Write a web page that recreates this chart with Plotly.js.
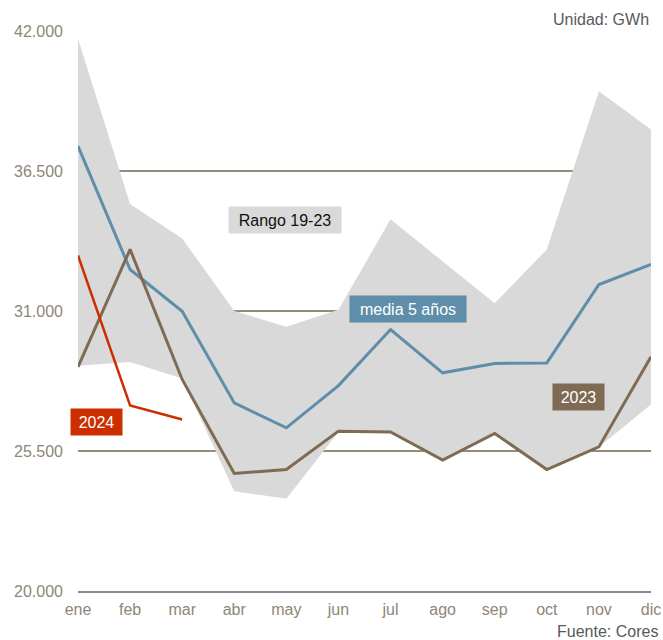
<!DOCTYPE html>
<html>
<head>
<meta charset="utf-8">
<script src="https://cdn.plot.ly/plotly-3.0.1.min.js"></script>
<style>html,body{margin:0;padding:0;background:#fff;}#chart{width:663px;height:640px;}</style>
</head>
<body>
<div id="chart"></div>
<script>
const months = ["ene","feb","mar","abr","may","jun","jul","ago","sep","oct","nov","dic"];
const rangeMin = [28850, 29000, 28350, 23920, 23620, 26250, 26250, 25140, 26190, 24770, 25660, 27330];
const rangeMax = [41700, 35200, 33850, 31000, 30380, 31050, 34600, 32950, 31300, 33420, 39630, 38130];
const media5 = [37480, 32630, 30990, 27390, 26410, 28070, 30270, 28570, 28940, 28960, 32040, 32830];
const y2023 = [28800, 33420, 28310, 24620, 24770, 26280, 26250, 25140, 26190, 24770, 25660, 29200];
const y2024 = [33180, 27290, 26740];
const yTicks = [20000, 25500, 31000, 36500, 42000];

const font = "Liberation Sans, Arial, Helvetica, sans-serif";

const traces = [
  {x: months, y: rangeMin, type: "scatter", mode: "lines", line: {width: 0, color: "#d9d9d9"}, hoverinfo: "skip", showlegend: false},
  {x: months, y: rangeMax, type: "scatter", mode: "lines", fill: "tonexty", fillcolor: "#d9d9d9", line: {width: 0, color: "#d9d9d9"}, hoverinfo: "skip", showlegend: false},
  {x: months, y: media5, type: "scatter", mode: "lines", line: {width: 3, color: "#5e8ea9"}, showlegend: false},
  {x: months, y: y2023, type: "scatter", mode: "lines", line: {width: 3, color: "#7f6a53"}, showlegend: false},
  {x: months.slice(0, y2024.length), y: y2024, type: "scatter", mode: "lines", line: {width: 2.5, color: "#cc2e00"}, showlegend: false}
];

function box(x, y, text, bg, fg, w) {
  return {xref: "paper", yref: "paper", x: x, y: y, xanchor: "center", yanchor: "middle",
    text: text, showarrow: false, bgcolor: bg, width: w, height: 26, borderpad: 0,
    font: {family: font, size: 16, color: fg}};
}

const layout = {
  width: 663, height: 640,
  margin: {l: 78, r: 12, t: 31, b: 49},
  paper_bgcolor: "#ffffff", plot_bgcolor: "#ffffff",
  separators: ",.",
  font: {family: font, size: 16, color: "#8f8676"},
  showlegend: false,
  xaxis: {
    type: "category", range: [0, 11], showgrid: false, zeroline: false,
    showline: true, linecolor: "#8a8a8a", linewidth: 2,
    ticks: "", ticklabelstandoff: 3, tickfont: {family: font, size: 16, color: "#8f8676"}
  },
  yaxis: {
    range: [20000, 42000], tickvals: yTicks, tickformat: ",.0f",
    showgrid: true, gridcolor: "#958c7b", gridwidth: 1.5, zeroline: false,
    showline: false, ticks: "", ticklabelstandoff: 14,
    tickfont: {family: font, size: 16, color: "#8f8676"}
  },
  annotations: [
    box(0.3613, 0.6625, "Rango 19-23", "#d9d9d9", "#111111", 112),
    box(0.5759, 0.5036, "media 5 años", "#5e8ea9", "#ffffff", 116),
    box(0.0323, 0.3018, "2024", "#cc2e00", "#ffffff", 51),
    box(0.8735, 0.3464, "2023", "#7f6a53", "#ffffff", 51),
    {xref: "paper", yref: "paper", x: 1.0, y: 1.0214, xanchor: "right", yanchor: "middle", text: "Unidad: GWh", showarrow: false,
     font: {family: font, size: 16, color: "#595959"}},
    {xref: "paper", yref: "paper", x: 1.0157, y: -0.0732, xanchor: "right", yanchor: "middle", text: "Fuente: Cores", showarrow: false,
     font: {family: font, size: 16, color: "#595959"}}
  ]
};

Plotly.newPlot("chart", traces, layout, {displayModeBar: false, staticPlot: true});
</script>
</body>
</html>
